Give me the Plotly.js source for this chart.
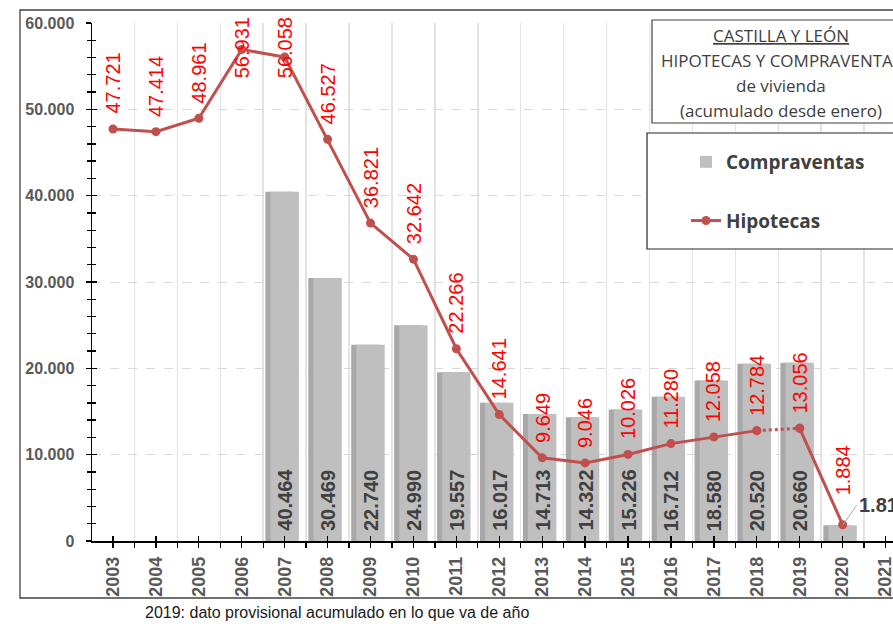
<!DOCTYPE html>
<html>
<head>
<meta charset="utf-8">
<script src="https://cdn.plot.ly/plotly-3.0.1.min.js"></script>
<style>
html,body{margin:0;padding:0;background:#fff;overflow:hidden}
#chart{width:893px;height:624px}
</style>
</head>
<body>
<div id="chart"></div>
<script>
// ---- data ----
const years = [2003,2004,2005,2006,2007,2008,2009,2010,2011,2012,2013,2014,2015,2016,2017,2018,2019,2020];
const hipotecas = [47721,47414,48961,56931,56058,46527,36821,32642,22266,14641,9649,9046,10026,11280,12058,12784,13056,1884];
const compraYears = [2007,2008,2009,2010,2011,2012,2013,2014,2015,2016,2017,2018,2019,2020];
const compraventas = [40464,30469,22740,24990,19557,16017,14713,14322,15226,16712,18580,20520,20660,1813];
const xTickYears = [2003,2004,2005,2006,2007,2008,2009,2010,2011,2012,2013,2014,2015,2016,2017,2018,2019,2020,2021];
const xTickText = ['2003','2004','2005','2006','2007','2008','2009','2010','2011','2012','2013','2014','2015','2016','2017','2018','2019','2020','2021'];
const titleLines = ['CASTILLA Y LEÓN','HIPOTECAS Y COMPRAVENTAS','de vivienda','(acumulado desde enero)'];
const footnote = '2019: dato provisional acumulado en lo que va de año';
const seriesNames = ['Compraventas','Hipotecas'];

// ---- geometry helpers ----
const L = 92, T = 23, W = 801, H = 518;
const px2x = p => (p - L) / W;
const py2y = p => (T + H - p) / H;
const yMax = 60000;
const unitPerPx = yMax / H;
const fmt = v => String(v).replace(/\B(?=(\d{3})+(?!\d))/g, '.');

const catW = 42.92;
const x0 = 2003 - (113 - L) / catW;
const x1 = x0 + W / catW;

const lineColor = '#c0504d';
const arial = 'Liberation Sans, Arial, sans-serif';
const calibriLike = 'Open Sans, sans-serif';

// ---- traces ----
const traces = [];
// bar shadow
traces.push({
  type: 'bar', x: compraYears, y: compraventas, width: 0.66, offset: -0.45,
  marker: {color: '#a8a8a8'}, showlegend: false, hoverinfo: 'skip'
});
// bars
traces.push({
  type: 'bar', x: compraYears, y: compraventas, width: 0.66, offset: -0.33,
  marker: {color: '#bfbfbf'}, name: seriesNames[0], legendgroup: 'c'
});
// line segments: solid until 2018, dotted 2018-2019, solid 2019-2020
const i2018 = years.indexOf(2018), i2019 = years.indexOf(2019);
const segs = [
  {a: 0, b: i2018 + 1, dash: 'solid', legend: true},
  {a: i2018, b: i2019 + 1, dash: 'dot', legend: false},
  {a: i2019, b: years.length, dash: 'solid', legend: false}
];
segs.forEach(s => {
  traces.push({
    type: 'scatter', mode: 'lines+markers',
    x: years.slice(s.a, s.b), y: hipotecas.slice(s.a, s.b),
    line: {color: lineColor, width: 3, dash: s.dash},
    marker: {color: lineColor, size: 9},
    name: seriesNames[1], legendgroup: 'h', showlegend: s.legend,
    cliponaxis: false
  });
});
// dummy trace for overlay axes
traces.push({type: 'scatter', x: [], y: [], xaxis: 'x2', yaxis: 'y2', showlegend: false, hoverinfo: 'skip'});

// ---- annotations ----
const annotations = [];
// hipotecas labels
hipotecas.forEach((v, i) => {
  const txt = fmt(v);
  const labelLen = 63;
  const topPx = (T + H - v / unitPerPx) - 14 - labelLen;
  const isLast = i === hipotecas.length - 1;
  if (topPx < 15) {
    annotations.push({x: years[i], y: yMax, xref: 'x', yref: 'y', text: txt, showarrow: false,
      textangle: -90, yanchor: 'top', xanchor: 'center', yshift: 8,
      font: {family: arial, size: 20, color: '#ff0000'}});
  } else {
    annotations.push({x: years[i], y: v, xref: 'x', yref: 'y', text: txt, showarrow: false,
      textangle: -90, yanchor: 'bottom', xanchor: 'center', yshift: isLast ? 27 : 13,
      font: {family: arial, size: 20, color: '#ff0000'}});
  }
});
// compraventas labels
compraventas.forEach((v, i) => {
  const isLast = i === compraventas.length - 1;
  if (isLast) {
    annotations.push({x: compraYears[i], y: v, xref: 'x', yref: 'y', text: '<b>' + fmt(v) + '</b>',
      showarrow: true, arrowhead: 0, arrowwidth: 1, arrowcolor: '#a6a6a6', ax: 14, ay: -20,
      xanchor: 'left', yanchor: 'middle',
      font: {family: arial, size: 20, color: '#404040'}});
  } else {
    annotations.push({x: compraYears[i], y: 0, xref: 'x', yref: 'y', text: '<b>' + fmt(v) + '</b>',
      showarrow: false, textangle: -90, yanchor: 'bottom', xanchor: 'center', yshift: 8,
      font: {family: arial, size: 20, color: '#404040'}});
  }
});
// title lines
const titleY = [36, 61, 85, 110];
titleLines.forEach((t, i) => {
  annotations.push({xref: 'paper', yref: 'paper', x: px2x(781), y: py2y(titleY[i]),
    xanchor: 'center', yanchor: 'middle', showarrow: false,
    text: i === 0 ? '<span style="text-decoration:underline">' + t + '</span>' : t,
    font: {family: calibriLike, size: 17, color: '#404040'}});
});
// footnote
annotations.push({xref: 'paper', yref: 'paper', x: px2x(143), y: py2y(612),
  xanchor: 'left', yanchor: 'middle', showarrow: false, text: footnote,
  font: {family: arial, size: 16, color: '#1a1a1a'}});

// ---- shapes (frames) ----
const shapes = [
  {type: 'rect', xref: 'paper', yref: 'paper', x0: px2x(20), x1: px2x(910), y0: py2y(598), y1: py2y(10),
   line: {color: '#404040', width: 1.3}, fillcolor: 'rgba(0,0,0,0)', layer: 'above'},
  {type: 'rect', xref: 'paper', yref: 'paper', x0: px2x(652), x1: px2x(920), y0: py2y(123), y1: py2y(20),
   line: {color: '#404040', width: 1.2}, fillcolor: '#ffffff', layer: 'above'},
  {type: 'rect', xref: 'paper', yref: 'paper', x0: px2x(647), x1: px2x(920), y0: py2y(249), y1: py2y(133),
   line: {color: '#262626', width: 1.2}, fillcolor: '#ffffff', layer: 'above'}
];

const layout = {
  width: 893, height: 624,
  margin: {l: L, r: 893 - L - W, t: T, b: 624 - T - H, pad: 0},
  paper_bgcolor: '#ffffff', plot_bgcolor: '#ffffff',
  separators: ',.',
  barmode: 'overlay',
  hovermode: false,
  showlegend: true,
  legend: {
    x: px2x(686), xanchor: 'left', y: py2y(143), yanchor: 'top',
    bgcolor: 'rgba(0,0,0,0)', borderwidth: 0,
    traceorder: 'grouped', tracegroupgap: 31, itemwidth: 30,
    font: {family: calibriLike, size: 19, color: '#404040', weight: 'bold'}
  },
  xaxis: {
    type: 'linear', range: [x0, x1], automargin: false,
    tickmode: 'array', tickvals: xTickYears, ticktext: xTickText, tickangle: -90,
    ticks: 'outside', ticklen: 5, tickwidth: 1.3, tickcolor: '#000',
    tickfont: {family: arial, size: 18, color: '#595959', weight: 'bold'},
    ticklabelstandoff: 2, ticklabeloverflow: 'allow',
    showline: true, linecolor: '#000', linewidth: 1.5,
    showgrid: false, zeroline: false,
    minor: {tickmode: 'linear', tick0: 2002.5, dtick: 1, ticks: 'outside', ticklen: 5, tickwidth: 1.3,
            tickcolor: '#000', showgrid: true, gridcolor: '#e3e3e3', gridwidth: 1.5}
  },
  xaxis2: {
    type: 'linear', range: [x0, x1], overlaying: 'x', anchor: 'y', side: 'bottom', automargin: false,
    tickmode: 'array', tickvals: xTickYears, ticks: 'inside', ticklen: 5, tickwidth: 1.3, tickcolor: '#000',
    showticklabels: false, showgrid: false, showline: false, zeroline: false
  },
  yaxis: {
    range: [0, yMax], automargin: false, dtick: 10000, tick0: 0, tickformat: ',',
    ticks: 'outside', ticklen: 5, tickwidth: 1.3, tickcolor: '#000',
    tickfont: {family: arial, size: 16, color: '#595959', weight: 'bold'},
    ticklabelstandoff: 8,
    showline: true, linecolor: '#000', linewidth: 1.5,
    showgrid: true, gridcolor: '#d9d9d9', gridwidth: 1, griddash: 'dash', zeroline: false,
    minor: {dtick: 2000, ticks: 'outside', ticklen: 4, tickwidth: 1.3, tickcolor: '#000', showgrid: false}
  },
  yaxis2: {
    range: [0, yMax], overlaying: 'y', anchor: 'x', side: 'left', automargin: false,
    dtick: 10000, tick0: 0, ticks: 'inside', ticklen: 5, tickwidth: 1.3, tickcolor: '#000',
    showticklabels: false, showgrid: false, showline: false, zeroline: false,
    minor: {dtick: 2000, ticks: 'inside', ticklen: 4, tickwidth: 1.3, tickcolor: '#000', showgrid: false}
  },
  annotations: annotations,
  shapes: shapes
};

Plotly.newPlot('chart', traces, layout, {displayModeBar: false, staticPlot: true});
</script>
</body>
</html>
